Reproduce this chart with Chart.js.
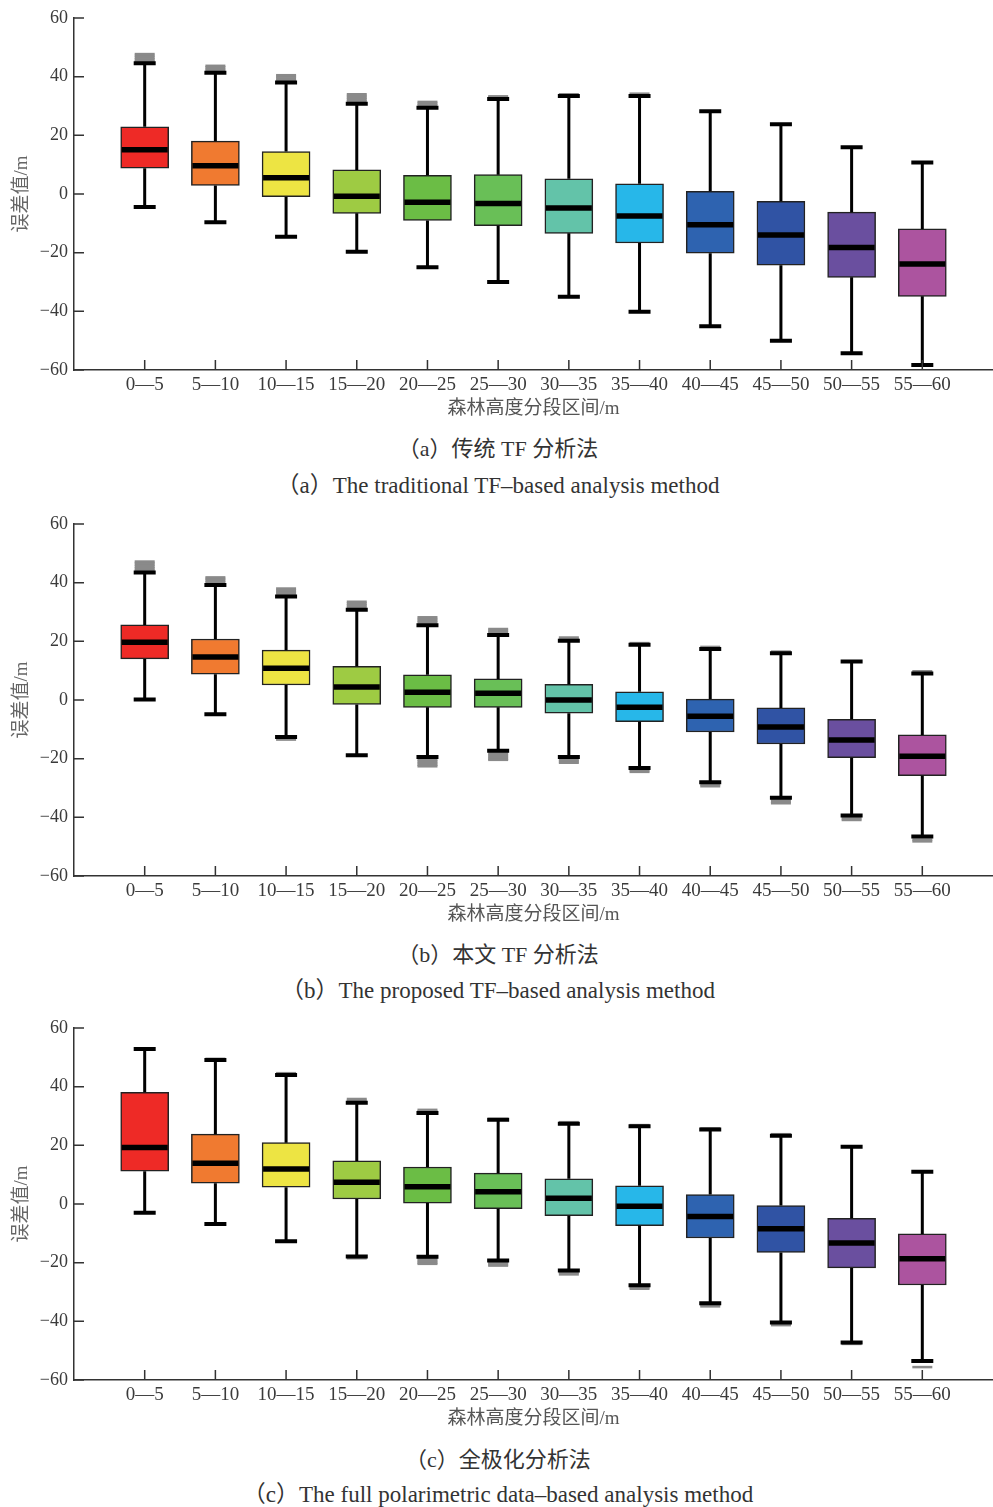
<!DOCTYPE html>
<html>
<head>
<meta charset="utf-8">
<script src="https://cdn.jsdelivr.net/npm/chart.js@4.4.0/dist/chart.umd.min.js"></script>
<style>
  body { margin: 0; background: #fff; width: 993px; height: 1507px; position: relative; overflow: hidden;
         font-family: "Liberation Serif", "Noto Sans CJK SC", serif; }
  canvas { position: absolute; left: 0; }
  .cap { position: absolute; left: 0; width: 996px; text-align: center; color: #333; white-space: nowrap; line-height: 1; }
  .cn { font-size: 22px; }
  .en { font-size: 23px; }
</style>
</head>
<body>
<canvas id="chartA" width="993" height="425" style="top:0px"></canvas>
<canvas id="chartB" width="993" height="425" style="top:506px"></canvas>
<canvas id="chartC" width="993" height="425" style="top:1010px"></canvas>

<div class="cap cn" style="top:438px">（a）传统 TF 分析法</div>
<div class="cap en" style="top:474px">（a）The traditional TF–based analysis method</div>
<div class="cap cn" style="top:944px">（b）本文 TF 分析法</div>
<div class="cap en" style="top:979px">（b）The proposed TF–based analysis method</div>
<div class="cap cn" style="top:1449px">（c）全极化分析法</div>
<div class="cap en" style="top:1483px">（c）The full polarimetric data–based analysis method</div>

<script>
const categories = ['0—5', '5—10', '10—15', '15—20', '20—25', '25—30', '30—35', '35—40', '40—45', '45—50', '50—55', '55—60'];
const yTicks = [-60, -40, -20, 0, 20, 40, 60];
const boxColors = ['#ee2a26', '#f07a30', '#ede443', '#9ecb43', '#6bbd45', '#69bf57', '#63c3a9', '#27b7e9', '#2e63b0', '#3053a4', '#6a4f9f', '#ac549f'];

// (a) traditional TF
const aLow  = [-4.4, -9.6, -14.6, -19.7, -25.0, -30.0, -35.0, -40.1, -45.1, -50.0, -54.3, -58.3];
const aQ1   = [8.8, 2.9, -0.9, -6.6, -9.0, -10.8, -13.4, -16.7, -20.2, -24.3, -28.4, -34.9];
const aMed  = [15.1, 9.6, 5.5, -0.8, -2.8, -3.2, -4.8, -7.5, -10.5, -14.0, -18.2, -23.9];
const aQ3   = [22.9, 18.0, 14.5, 8.2, 6.4, 6.6, 5.2, 3.5, 0.9, -2.5, -6.2, -11.9];
const aHigh = [44.6, 41.3, 38.0, 30.8, 29.4, 32.4, 33.4, 33.4, 28.2, 23.8, 15.9, 10.7];
const aOut  = [[45.3, 45.9, 46.5, 47.1, 47.7], [42.0, 42.6, 43.2, 43.7], [38.8, 39.4, 40.0, 40.5],
               [31.6, 32.2, 32.8, 33.4, 34.0], [30.2, 30.8, 31.4], [32.9, 33.3], [34.0], [34.2],
               [], [], [], []];

// (b) proposed TF
const bLow  = [0.2, -4.9, -12.6, -18.8, -19.4, -17.3, -19.4, -23.2, -28.0, -33.3, -39.4, -46.5];
const bQ1   = [14.0, 8.8, 5.1, -1.5, -2.5, -2.5, -4.5, -7.4, -10.9, -15.0, -19.7, -25.8];
const bMed  = [19.7, 14.7, 10.8, 4.4, 2.6, 2.3, 0.0, -2.5, -5.5, -9.2, -13.6, -19.2];
const bQ3   = [25.6, 20.8, 17.0, 11.5, 8.6, 7.2, 5.3, 2.8, 0.3, -2.7, -6.6, -11.9];
const bHigh = [43.5, 39.2, 35.3, 30.8, 25.5, 22.2, 20.2, 18.8, 17.4, 15.9, 13.1, 9.0];
const bOut  = [[44.3, 44.9, 45.5, 46.1, 46.7, 47.2], [40.1, 40.7, 41.3, 41.8], [36.2, 36.8, 37.4, 38.0, -13.5],
               [31.7, 32.3, 32.9, 33.5], [26.4, 27.0, 27.6, 28.2, -20.3, -20.9, -21.5, -22.1, -22.6],
               [23.0, 23.6, 24.2, -18.2, -18.8, -19.4, -20.0, -20.4], [20.8, 21.3, -20.3, -20.9, -21.4],
               [19.4, -23.9, -24.5], [18.1, -28.8, -29.4], [16.5, -34.1, -34.7, -35.2],
               [-40.3, -40.9], [9.8, -47.6, -48.2]];

// (c) full polarimetric
const cLow  = [-3.0, -6.8, -12.7, -17.9, -18.0, -19.3, -22.7, -27.7, -33.8, -40.4, -47.2, -53.5];
const cQ1   = [11.2, 7.1, 5.7, 1.7, 0.3, -1.6, -4.0, -7.4, -11.6, -16.5, -21.8, -27.6];
const cMed  = [19.3, 13.9, 11.9, 7.4, 5.9, 4.2, 2.0, -0.8, -4.3, -8.4, -13.3, -18.7];
const cQ3   = [38.1, 23.8, 20.9, 14.7, 12.6, 10.5, 8.6, 6.2, 3.2, -0.5, -4.9, -10.2];
const cHigh = [52.8, 49.1, 44.0, 34.5, 31.0, 28.7, 27.4, 26.5, 25.4, 23.3, 19.5, 11.0];
const cOut  = [[], [49.5], [44.6], [35.2, 35.8, -18.5], [31.6, 32.1, -18.8, -19.4, -20.0, -20.4],
               [29.0, -20.0, -20.6, -21.0], [27.9, -23.4, -24.0], [26.9, -28.4, -28.9],
               [25.8, -34.4, -34.9], [23.8, -40.9, -41.3], [-47.7], [-55.6]];

const serif = '"Liberation Serif", "Noto Sans CJK SC", serif';

function makeChart(id, low, q1, med, q3, high, out) {
    const ctx = document.getElementById(id).getContext('2d');
    const H = 425;

    // whiskers, caps, medians and inward tick marks, all placed through the chart scales
    const boxParts = {
        id: 'boxParts',
        afterDatasetsDraw(chart) {
            const c = chart.ctx;
            const xs = chart.scales.x, ys = chart.scales.y;
            c.save();
            c.strokeStyle = '#000';
            c.lineCap = 'butt';
            for (let i = 0; i < categories.length; i++) {
                const px = xs.getPixelForValue(i + 1);
                c.lineWidth = 3;
                c.beginPath();
                c.moveTo(px, ys.getPixelForValue(q3[i])); c.lineTo(px, ys.getPixelForValue(high[i]));
                c.moveTo(px, ys.getPixelForValue(q1[i])); c.lineTo(px, ys.getPixelForValue(low[i]));
                c.stroke();
                c.lineWidth = 4;
                c.beginPath();
                c.moveTo(px - 11, ys.getPixelForValue(high[i])); c.lineTo(px + 11, ys.getPixelForValue(high[i]));
                c.moveTo(px - 11, ys.getPixelForValue(low[i])); c.lineTo(px + 11, ys.getPixelForValue(low[i]));
                c.stroke();
                c.lineWidth = 5.5;
                c.beginPath();
                c.moveTo(px - 23, ys.getPixelForValue(med[i])); c.lineTo(px + 23, ys.getPixelForValue(med[i]));
                c.stroke();
            }
            c.strokeStyle = '#333';
            c.lineWidth = 1.5;
            c.beginPath();
            const area = chart.chartArea;
            for (let i = 0; i < categories.length; i++) {
                const px = xs.getPixelForValue(i + 1);
                c.moveTo(px, area.bottom); c.lineTo(px, area.bottom - 10);
            }
            yTicks.forEach(v => {
                const py = ys.getPixelForValue(v);
                c.moveTo(area.left, py); c.lineTo(area.left + 10, py);
            });
            c.stroke();
            c.restore();
        }
    };

    return new Chart(ctx, {
        type: 'bar',
        data: {
            datasets: [{
                type: 'bar',
                data: categories.map((_, i) => ({ x: i + 1, y: [q1[i], q3[i]] })),
                backgroundColor: boxColors,
                borderColor: '#222',
                borderWidth: 1.5,
                borderSkipped: false,
                barThickness: 48,
                order: 1
            }, {
                type: 'scatter',
                data: out.flatMap((arr, i) => arr.map(v => ({ x: i + 1, y: v }))),
                pointStyle: 'line',
                pointRadius: 10,
                borderColor: '#8a8a8a',
                borderWidth: 2.5,
                order: 2
            }]
        },
        options: {
            responsive: false,
            animation: false,
            devicePixelRatio: 1,
            layout: { autoPadding: false, padding: { top: 18, right: 0, bottom: 0, left: 0 } },
            plugins: { legend: { display: false }, tooltip: { enabled: false } },
            scales: {
                x: {
                    type: 'linear',
                    offset: false,
                    min: 0,
                    max: 13,
                    afterBuildTicks(scale) {
                        scale.ticks = categories.map((_, i) => ({ value: i + 1 }));
                    },
                    afterFit(scale) {
                        scale.height = H - 18 - 352;
                        scale.paddingLeft = 0;
                        scale.paddingRight = 0;
                    },
                    grid: { display: false, drawTicks: false, offset: false },
                    border: { display: true, color: '#333', width: 1.5 },
                    ticks: {
                        autoSkip: false,
                        maxRotation: 0,
                        padding: 4,
                        color: '#3a3a3a',
                        font: { family: serif, size: 19 },
                        callback: v => categories[v - 1]
                    },
                    title: {
                        display: true,
                        text: '森林高度分段区间/m',
                        color: '#555',
                        font: { family: serif, size: 19 },
                        padding: { top: 0, bottom: 5 }
                    }
                },
                y: {
                    min: -60,
                    max: 60,
                    afterBuildTicks(scale) {
                        scale.ticks = yTicks.map(v => ({ value: v }));
                    },
                    afterFit(scale) { scale.width = 74; },
                    grid: { display: false, drawTicks: false },
                    border: { display: true, color: '#333', width: 1.5 },
                    ticks: {
                        padding: 6,
                        color: '#3a3a3a',
                        font: { family: serif, size: 18 },
                        callback: v => (v < 0 ? '−' + Math.abs(v) : String(v))
                    },
                    title: {
                        display: true,
                        text: '误差值/m',
                        color: '#666',
                        font: { family: serif, size: 19 },
                        padding: { top: 11, bottom: 0 }
                    }
                }
            }
        },
        plugins: [boxParts]
    });
}

document.addEventListener('DOMContentLoaded', function () {
    makeChart('chartA', aLow, aQ1, aMed, aQ3, aHigh, aOut);
    makeChart('chartB', bLow, bQ1, bMed, bQ3, bHigh, bOut);
    makeChart('chartC', cLow, cQ1, cMed, cQ3, cHigh, cOut);
});
</script>
</body>
</html>
